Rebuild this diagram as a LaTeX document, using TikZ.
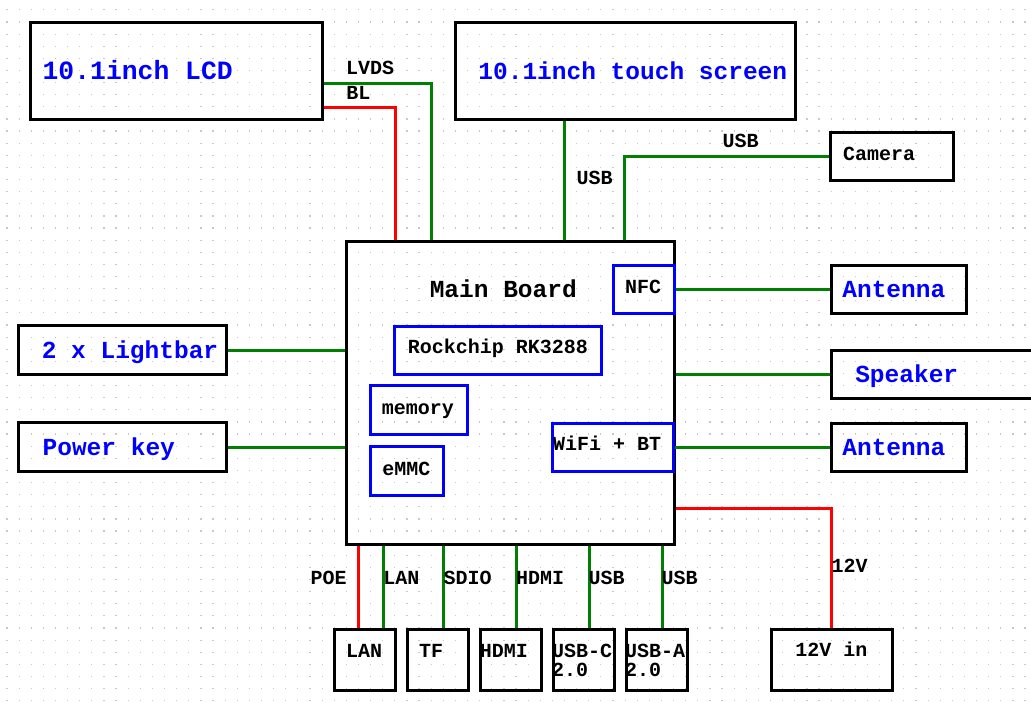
\documentclass[tikz,border=0pt]{standalone}
\usepackage{fontspec}
\setmainfont{Liberation Mono}
\definecolor{lgreen}{RGB}{0,128,0}
\definecolor{dotc}{RGB}{200,200,200}
\begin{document}
\begin{tikzpicture}[x=1pt,y=-1pt,
  box/.style={draw=black, line width=3pt, rectangle, inner sep=0pt},
  chip/.style={draw=blue, line width=3pt, rectangle, inner sep=0pt},
  big/.style={inner sep=0pt, anchor=base, text=blue, font=\fontsize{24.5}{26}\selectfont\bfseries},
  lbl/.style={inner sep=0pt, anchor=base, text=black, font=\fontsize{20}{22}\selectfont\bfseries},
  lblw/.style={lbl, anchor=base west},
  gline/.style={draw=lgreen, line width=3pt},
  rline/.style={draw=red, line width=3pt},
]
\useasboundingbox (0,0) rectangle (1031,702);
\fill[white] (0,0) rectangle (1031,702);
% grid dots
\foreach \j in {0,...,57}
  \draw[dotc, line width=1.2pt, dash pattern=on 1.2pt off 10.92pt] (6.4,{9.88+\j*12.12}) -- (1031,{9.88+\j*12.12});

% boxes
\node[box, minimum width=292pt, minimum height=97pt] (lcd) at (176.7,70.5) {};
\node[box, minimum width=340pt, minimum height=97pt] (touch) at (625,70.5) {};
\node[box, minimum width=122.6pt, minimum height=48pt] (camera) at (892,156) {};
\node[box, minimum width=328pt, minimum height=303pt] (main) at (510,392.5) {};
\node[chip, minimum width=61pt, minimum height=48pt] (nfc) at (643.5,289) {};
\node[chip, minimum width=206.7pt, minimum height=48.3pt] (rk) at (498.3,350.2) {};
\node[chip, minimum width=97pt, minimum height=48.7pt] (mem) at (419.2,410.3) {};
\node[chip, minimum width=73.3pt, minimum height=49pt] (emmc) at (407.3,471.2) {};
\node[chip, minimum width=121.4pt, minimum height=48pt] (wifi) at (613,447) {};
\node[box, minimum width=208pt, minimum height=49pt] (light) at (122.5,350) {};
\node[box, minimum width=208pt, minimum height=49pt] (power) at (122.5,447) {};
\node[box, minimum width=135pt, minimum height=48pt] (ant1) at (898.5,289) {};
\node[box, minimum width=269pt, minimum height=48pt] (spk) at (965.5,374) {};
\node[box, minimum width=135pt, minimum height=48pt] (ant2) at (898.5,447) {};
\node[box, minimum width=121pt, minimum height=61pt] (pin) at (831.5,659.5) {};
\node[box, minimum width=61pt, minimum height=61pt] (lanbox) at (364.5,659.5) {};
\node[box, minimum width=61pt, minimum height=61pt] (tfbox) at (437.5,659.5) {};
\node[box, minimum width=61pt, minimum height=61pt] (hdmibox) at (510.5,659.5) {};
\node[box, minimum width=61pt, minimum height=61pt] (usbcbox) at (583.5,659.5) {};
\node[box, minimum width=61pt, minimum height=61pt] (usbabox) at (656.5,659.5) {};

% box texts
\node[big, font=\fontsize{26.4}{28}\selectfont\bfseries] (tlcd) at (137.7,79.3) {10.1inch LCD};
\node[big] (ttouch) at (632.8,79.3) {10.1inch touch screen};
\node[lbl] (tcam) at (879.2,160) {Camera};
\node[lbl, font=\fontsize{24.5}{26}\selectfont\bfseries] (tmain) at (503.3,297.7) {Main Board};
\node[lbl] (tnfc) at (643.2,293.4) {NFC};
\node[lbl] (trk) at (497.8,353) {Rockchip RK3288};
\node[lbl] (tmem) at (417.8,414) {memory};
\node[lbl] (temmc) at (406.3,475) {eMMC};
\node[lbl] (twifi) at (607.2,450.7) {WiFi + BT};
\node[big] (tant1) at (893.8,297) {Antenna};
\node[big] (tspk) at (906.7,382.7) {Speaker};
\node[big] (tant2) at (893.8,455.3) {Antenna};
\node[big] (tlight) at (130,358.3) {2 x Lightbar};
\node[big] (tpower) at (108.8,455.7) {Power key};
\node[lbl] (tpin) at (831.3,656.7) {12V in};
\node[lbl] (tlan) at (364.2,657.3) {LAN};
\node[lbl] (ttf) at (431,657.3) {TF};
\node[lbl] (thdmi) at (503.8,657.3) {HDMI};
\node[lblw] (tusbc) at (552,657.3) {USB-C};
\node[lblw] (tusbc2) at (552,676.7) {2.0};
\node[lblw] (tusba) at (625,657.3) {USB-A};
\node[lblw] (tusba2) at (625,676.7) {2.0};

% connectors
\draw[gline] (lcd.east |- 0,83) -| (main.north -| 431.5,0);
\draw[rline] (lcd.east |- 0,107) -| (main.north -| 395,0);
\draw[gline] (touch.south -| 564.5,0) -- (main.north -| 564.5,0);
\draw[gline] (main.north -| 624.5,0) |- (camera.west);
\draw[gline] (nfc.east) -- (ant1.west);
\draw[gline] (main.east |- spk.west) -- (spk.west);
\draw[gline] (wifi.east) -- (ant2.west);
\draw[rline] (main.east |- 0,508) -| (pin.north);
\draw[gline] (light.east) -- (main.west |- light.east);
\draw[gline] (power.east) -- (main.west |- power.east);
\draw[rline] (main.south -| 358.7,0) -- (lanbox.north -| 358.7,0);
\draw[gline] (main.south -| 383,0) -- (lanbox.north -| 383,0);
\draw[gline] (main.south -| 443.5,0) -- (tfbox.north -| 443.5,0);
\draw[gline] (main.south -| 516.3,0) -- (hdmibox.north -| 516.3,0);
\draw[gline] (main.south -| 589,0) -- (usbcbox.north -| 589,0);
\draw[gline] (main.south -| 662,0) -- (usbabox.north -| 662,0);

% connector labels
\node[lbl] (llvds) at (370,74.7) {LVDS};
\node[lbl] (lbl) at (358.3,99) {BL};
\node[lbl] (lusb1) at (594.7,184) {USB};
\node[lbl] (lusb2) at (740.5,147.7) {USB};
\node[lbl] (l12v) at (849.7,572.7) {12V};
\node[lbl] (lpoe) at (328.5,584.7) {POE};
\node[lbl] (llan) at (401.3,584.7) {LAN};
\node[lbl] (lsdio) at (467.5,584.7) {SDIO};
\node[lbl] (lhdmi) at (540,584.7) {HDMI};
\node[lbl] (lusb3) at (606.5,584.7) {USB};
\node[lbl] (lusb4) at (679.5,584.7) {USB};
\end{tikzpicture}
\end{document}
